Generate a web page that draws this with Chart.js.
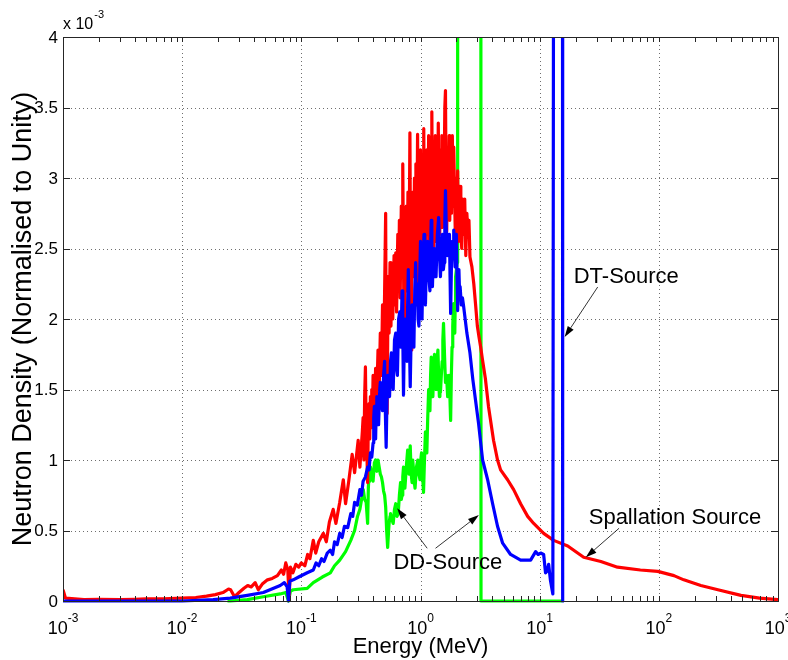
<!DOCTYPE html>
<html>
<head>
<meta charset="utf-8">
<script src="https://cdn.jsdelivr.net/npm/chart.js@4.4.0/dist/chart.umd.min.js"></script>
<style>
  html, body { margin: 0; padding: 0; background: #fff; }
  #wrap { width: 788px; height: 660px; }
</style>
</head>
<body>
<div id="wrap"><canvas id="spectrum-chart" width="788" height="660"></canvas></div>
<script>
// energies in MeV, densities in units of 1e-3 (axis shows "x 10^-3")
const spallationEnergy = [
  0.001, 0.00105, 0.0015, 0.002, 0.003, 0.004, 0.005, 0.007, 0.01, 0.013,
  0.016, 0.019, 0.022, 0.0245, 0.0255, 0.0275, 0.03, 0.033, 0.0355, 0.038,
  0.041, 0.0435, 0.047, 0.052, 0.057, 0.063, 0.068, 0.071, 0.074, 0.077,
  0.079, 0.081, 0.085, 0.09, 0.095, 0.1, 0.107, 0.113, 0.118, 0.126,
  0.132, 0.14, 0.153, 0.162, 0.172, 0.185, 0.195, 0.21, 0.225, 0.235,
  0.25, 0.267, 0.28, 0.3, 0.31, 0.325, 0.33, 0.335, 0.34, 0.345,
  0.35, 0.355, 0.36, 0.365, 0.37, 0.375, 0.38, 0.385, 0.39, 0.395,
  0.4, 0.41, 0.42, 0.43, 0.44, 0.45, 0.46, 0.47, 0.48, 0.49,
  0.5, 0.51, 0.515, 0.525, 0.535, 0.545, 0.555, 0.565, 0.575, 0.585,
  0.6, 0.61, 0.62, 0.63, 0.645, 0.655, 0.665, 0.675, 0.69, 0.7,
  0.71, 0.72, 0.73, 0.74, 0.75, 0.76, 0.77, 0.785, 0.8, 0.815,
  0.825, 0.835, 0.845, 0.855, 0.865, 0.875, 0.89, 0.9, 0.915, 0.93,
  0.945, 0.955, 0.965, 0.975, 0.99, 1.0, 1.02, 1.035, 1.05, 1.065,
  1.08, 1.095, 1.11, 1.13, 1.15, 1.17, 1.19, 1.21, 1.23, 1.245,
  1.26, 1.275, 1.29, 1.31, 1.33, 1.35, 1.37, 1.39, 1.41, 1.43,
  1.45, 1.47, 1.49, 1.51, 1.53, 1.55, 1.57, 1.6, 1.62, 1.64,
  1.66, 1.69, 1.71, 1.74, 1.76, 1.79, 1.82, 1.85, 1.88, 1.9,
  1.93, 1.96, 1.99, 2.02, 2.05, 2.08, 2.11, 2.15, 2.18, 2.22,
  2.26, 2.3, 2.35, 2.4, 2.45, 2.5, 2.55, 2.6, 2.7, 2.8,
  2.9, 3.0, 3.1, 3.2, 3.3, 3.5, 3.72, 4.1, 4.43, 4.7,
  5.38, 6.05, 6.92, 7.93, 8.91, 10.8, 13.1, 17.2, 23.4, 32.6,
  45, 70, 98, 134, 162, 225, 313, 489, 700, 1000
];
const spallationDensity = [
  0.08, 0.02, 0.01, 0.012, 0.01, 0.012, 0.015, 0.015, 0.02, 0.025,
  0.035, 0.045, 0.06, 0.085, 0.08, 0.03, 0.06, 0.09, 0.11, 0.1,
  0.13, 0.08, 0.12, 0.15, 0.16, 0.18, 0.22, 0.19, 0.27, 0.22,
  0.02, 0.24, 0.2, 0.26, 0.24, 0.27, 0.25, 0.33, 0.3, 0.43,
  0.34, 0.42, 0.48, 0.42, 0.56, 0.65, 0.55, 0.7, 0.86, 0.69,
  0.85, 1.04, 0.91, 1.14, 0.95, 1.2, 1.3, 1.0, 1.45, 1.66,
  1.2, 1.05, 0.84, 1.3, 1.4, 1.15, 1.45, 1.23, 1.5, 1.3,
  1.6, 1.25, 1.65, 1.45, 1.78, 1.5, 1.9, 1.6, 2.1, 1.7,
  2.2, 2.75, 1.8, 1.33, 2.3, 1.9, 2.4, 1.95, 2.35, 2.0,
  2.45, 2.1, 2.47, 2.05, 2.6, 2.2, 2.7, 2.15, 2.8, 2.3,
  3.1, 2.4, 1.77, 2.6, 2.3, 2.8, 2.2, 2.9, 2.3, 3.32,
  2.4, 1.78, 2.7, 2.3, 2.9, 2.4, 3.0, 2.3, 3.1, 2.5,
  3.31, 2.4, 2.25, 3.0, 2.5, 3.2, 2.6, 3.1, 2.4, 3.35,
  2.5, 3.0, 2.35, 3.2, 2.6, 3.3, 2.5, 3.1, 2.6, 3.47,
  2.7, 2.45, 3.2, 2.7, 3.3, 2.55, 3.1, 2.7, 3.39, 2.8,
  2.6, 3.2, 2.75, 3.3, 2.65, 3.1, 2.8, 3.5, 3.62, 2.9,
  2.62, 3.2, 2.8, 3.3, 2.7, 3.1, 2.75, 3.3, 2.8, 3.22,
  2.9, 2.6, 3.0, 2.7, 3.05, 2.55, 2.9, 2.94, 2.6, 2.5,
  2.85, 2.6, 2.85, 2.45, 2.75, 2.6, 2.7, 2.44, 2.37, 2.25,
  2.1, 1.95, 1.87, 1.8, 1.72, 1.58, 1.38, 1.14, 1.0, 0.93,
  0.86, 0.79, 0.69, 0.6, 0.55, 0.48, 0.43, 0.39, 0.31, 0.28,
  0.24, 0.22, 0.21, 0.18, 0.15, 0.11, 0.08, 0.04, 0.02, 0.01
];

const dtEnergy = [
  0.001, 0.01, 0.0182, 0.0253, 0.0352, 0.048, 0.0665, 0.072, 0.076, 0.078,
  0.08, 0.0855, 0.095, 0.112, 0.126, 0.133, 0.14, 0.148, 0.155, 0.165,
  0.175, 0.183, 0.19, 0.2, 0.21, 0.22, 0.23, 0.245, 0.26, 0.27,
  0.28, 0.295, 0.31, 0.32, 0.33, 0.345, 0.36, 0.37, 0.38, 0.39,
  0.4, 0.405, 0.41, 0.415, 0.42, 0.425, 0.43, 0.44, 0.445, 0.455,
  0.46, 0.47, 0.48, 0.49, 0.5, 0.505, 0.515, 0.525, 0.53, 0.54,
  0.55, 0.56, 0.57, 0.58, 0.59, 0.605, 0.62, 0.63, 0.64, 0.655,
  0.67, 0.685, 0.7, 0.71, 0.72, 0.73, 0.74, 0.755, 0.77, 0.78,
  0.79, 0.805, 0.82, 0.835, 0.85, 0.865, 0.88, 0.895, 0.91, 0.925,
  0.94, 0.955, 0.97, 0.985, 1.0, 1.015, 1.03, 1.05, 1.07, 1.085,
  1.1, 1.125, 1.15, 1.175, 1.2, 1.215, 1.23, 1.245, 1.26, 1.28,
  1.3, 1.325, 1.35, 1.385, 1.42, 1.445, 1.47, 1.5, 1.53, 1.555,
  1.58, 1.6, 1.62, 1.65, 1.68, 1.715, 1.75, 1.77, 1.79, 1.82,
  1.85, 1.875, 1.9, 1.925, 1.95, 1.975, 2.0, 2.025, 2.05, 2.075,
  2.1, 2.125, 2.15, 2.2, 2.25, 2.3, 2.45, 2.6, 2.75, 2.9,
  3.07, 3.32, 3.66, 4.03, 4.43, 4.89, 5.7, 6.92, 8.4, 9.25,
  9.7, 10.2, 10.8, 11.2, 11.5, 11.9, 12.3, 12.9, 13.2, 15.5,
  15.6, 16
];
const dtDensity = [
  0, 0, 0.01, 0.02, 0.04, 0.06, 0.11, 0.13, 0.1, 0,
  0.14, 0.15, 0.17, 0.2, 0.22, 0.27, 0.25, 0.3, 0.28, 0.34,
  0.36, 0.33, 0.42, 0.4, 0.48, 0.45, 0.53, 0.52, 0.62, 0.6,
  0.7, 0.68, 0.79, 0.75, 0.85, 0.88, 0.95, 0.93, 1.05, 1.02,
  1.12, 1.3, 1.38, 1.2, 1.15, 1.35, 1.45, 1.3, 1.25, 1.5,
  1.55, 1.4, 1.35, 1.6, 1.7, 1.4, 1.09, 1.5, 1.6, 1.5,
  1.45, 1.7, 1.76, 1.55, 1.5, 1.85, 1.9, 1.65, 1.6, 2.0,
  2.05, 1.8, 2.2, 1.9, 1.46, 1.8, 2.0, 1.9, 1.7, 2.1,
  2.35, 1.9, 1.52, 1.9, 2.1, 1.85, 1.8, 2.2, 2.4, 2.1,
  2.25, 2.0, 1.95, 2.3, 2.55, 2.2, 2.0, 2.4, 2.6, 2.3,
  2.1, 2.45, 2.55, 2.3, 2.2, 2.5, 2.7, 2.4, 2.23, 2.45,
  2.5, 2.3, 2.3, 2.6, 2.72, 2.45, 2.3, 2.5, 2.6, 2.35,
  2.4, 2.7, 2.91, 2.6, 2.45, 2.6, 2.6, 2.3, 2.04, 2.4,
  2.55, 2.45, 2.63, 2.5, 2.37, 2.55, 2.6, 2.3, 2.06, 2.3,
  2.35, 2.2, 2.23, 2.1, 2.15, 2.09, 1.9, 1.76, 1.57, 1.42,
  1.26, 1.0, 0.86, 0.69, 0.53, 0.41, 0.33, 0.29, 0.29, 0.35,
  0.33, 0.34, 0.33, 0.2, 0.21, 0.26, 0.15, 0.05, 8, 8,
  0, 0
];

const ddEnergy = [
  0.024, 0.0253, 0.0352, 0.048, 0.0665, 0.074, 0.078, 0.081, 0.0855, 0.112,
  0.126, 0.15, 0.175, 0.19, 0.21, 0.235, 0.26, 0.28, 0.296, 0.31,
  0.331, 0.34, 0.35, 0.36, 0.365, 0.37, 0.375, 0.38, 0.39, 0.4,
  0.41, 0.42, 0.43, 0.44, 0.45, 0.46, 0.47, 0.48, 0.49, 0.5,
  0.51, 0.52, 0.53, 0.54, 0.545, 0.555, 0.56, 0.575, 0.59, 0.605,
  0.62, 0.635, 0.65, 0.665, 0.68, 0.69, 0.7, 0.71, 0.72, 0.73,
  0.74, 0.76, 0.78, 0.79, 0.8, 0.81, 0.82, 0.835, 0.85, 0.86,
  0.87, 0.885, 0.9, 0.925, 0.95, 0.97, 0.99, 1.005, 1.02, 1.04,
  1.06, 1.08, 1.1, 1.115, 1.13, 1.15, 1.17, 1.185, 1.2, 1.215,
  1.23, 1.25, 1.27, 1.29, 1.31, 1.33, 1.35, 1.375, 1.4, 1.42,
  1.44, 1.455, 1.47, 1.495, 1.52, 1.54, 1.56, 1.59, 1.62, 1.655,
  1.69, 1.715, 1.74, 1.765, 1.79, 1.815, 1.84, 1.865, 1.89, 1.915,
  1.94, 1.955, 1.97, 2.0, 2.03, 2.05, 3.2, 3.22, 15.5
];
const ddDensity = [
  0, 0, 0.01, 0.03, 0.05, 0.06, 0, 0.07, 0.08, 0.09,
  0.13, 0.17, 0.2, 0.25, 0.29, 0.35, 0.43, 0.5, 0.6, 0.65,
  0.79, 0.72, 0.7, 0.55, 0.8, 0.9, 0.85, 0.95, 0.9, 0.85,
  0.98, 1.0, 0.92, 1.0, 0.95, 0.9, 0.88, 0.84, 0.78, 0.75,
  0.67, 0.5, 0.38, 0.5, 0.55, 0.6, 0.62, 0.58, 0.55, 0.65,
  0.69, 0.6, 0.62, 0.75, 0.84, 0.72, 0.75, 0.88, 0.95, 0.85,
  0.8, 0.95, 1.07, 0.95, 0.9, 1.0, 1.1, 0.9, 0.84, 1.0,
  0.95, 0.85, 0.8, 0.95, 1.0, 0.9, 0.86, 1.0, 1.05, 0.9,
  0.77, 1.0, 1.2, 1.1, 1.05, 1.3, 1.5, 1.4, 1.35, 1.6,
  1.73, 1.55, 1.45, 1.65, 1.75, 1.6, 1.5, 1.7, 1.78, 1.6,
  1.45, 1.6, 1.48, 1.6, 1.7, 1.85, 1.97, 1.75, 1.55, 1.6,
  1.45, 1.55, 1.6, 1.45, 1.28, 1.6, 1.8, 1.95, 2.11, 2.0,
  1.9, 2.1, 2.3, 2.35, 2.4, 10, 10, 0, 0
];

const decades = [0.001, 0.01, 0.1, 1, 10, 100, 1000];
const decadeExponents = ['-3', '-2', '-1', '0', '1', '2', '3'];
const yTickValues = [0, 0.5, 1, 1.5, 2, 2.5, 3, 3.5, 4];
const yTickLabels = ['0', '0.5', '1', '1.5', '2', '2.5', '3', '3.5', '4'];

// text labels and arrows, placed in data coordinates
const noteTexts = ['DT-Source', 'Spallation Source', 'DD-Source'];
const noteAt = [[19.3, 2.255], [25.8, 0.546], [0.593, 0.227]];
const arrowFrom = [[30.7, 2.227], [46.4, 0.516], [1.138, 0.374], [1.337, 0.374]];
const arrowTo = [[16.2, 1.872], [24.4, 0.31], [0.637, 0.657], [3.09, 0.61]];

const FONT = '"Liberation Sans", Arial, sans-serif';

function toPoints(xs, ys) {
  return xs.map((x, i) => ({ x: x, y: ys[i] }));
}

function drawArrow(ctx, x0, y0, x1, y1) {
  const ang = Math.atan2(y1 - y0, x1 - x0);
  const len = 11, half = 3.5;
  const bx = x1 - Math.cos(ang) * len, by = y1 - Math.sin(ang) * len;
  ctx.beginPath();
  ctx.moveTo(x0, y0);
  ctx.lineTo(bx, by);
  ctx.stroke();
  ctx.beginPath();
  ctx.moveTo(x1, y1);
  ctx.lineTo(bx + half * Math.sin(ang), by - half * Math.cos(ang));
  ctx.lineTo(bx - half * Math.sin(ang), by + half * Math.cos(ang));
  ctx.closePath();
  ctx.fill();
}

// matlab-like axes: dotted grid, inward ticks on all four sides, boxed frame
const matlabAxes = {
  id: 'matlabAxes',
  beforeDatasetsDraw(chart) {
    const { ctx, chartArea: a, scales: { x, y } } = chart;
    ctx.save();
    ctx.strokeStyle = '#6e6e6e';
    ctx.lineWidth = 1;
    ctx.setLineDash([1, 3]);
    ctx.beginPath();
    decades.slice(1, -1).forEach((d) => {
      const px = Math.round(x.getPixelForValue(d)) + 0.5;
      ctx.moveTo(px, a.top);
      ctx.lineTo(px, a.bottom);
    });
    yTickValues.slice(1, -1).forEach((v) => {
      const py = Math.round(y.getPixelForValue(v)) + 0.5;
      ctx.moveTo(a.left, py);
      ctx.lineTo(a.right, py);
    });
    ctx.stroke();
    ctx.restore();
  },
  afterDatasetsDraw(chart) {
    const { ctx, chartArea: a, scales: { x, y } } = chart;
    ctx.save();
    ctx.strokeStyle = '#262626';
    ctx.fillStyle = '#000';
    ctx.lineWidth = 1;

    // frame
    ctx.strokeRect(Math.round(a.left) + 0.5, Math.round(a.top) + 0.5,
      Math.round(a.right - a.left), Math.round(a.bottom - a.top));

    // x ticks (majors and minors) and y ticks
    ctx.beginPath();
    decades.forEach((d, i) => {
      const marks = i < decades.length - 1 ? [1, 2, 3, 4, 5, 6, 7, 8, 9] : [1];
      marks.forEach((m) => {
        const px = Math.round(x.getPixelForValue(d * m)) + 0.5;
        ctx.moveTo(px, a.bottom);
        ctx.lineTo(px, a.bottom - 5);
        ctx.moveTo(px, a.top);
        ctx.lineTo(px, a.top + 5);
      });
    });
    yTickValues.forEach((v) => {
      const py = Math.round(y.getPixelForValue(v)) + 0.5;
      ctx.moveTo(a.left, py);
      ctx.lineTo(a.left + 7, py);
      ctx.moveTo(a.right, py);
      ctx.lineTo(a.right - 7, py);
    });
    ctx.stroke();

    // x tick labels: 10 with superscript exponent
    ctx.textBaseline = 'alphabetic';
    ctx.textAlign = 'left';
    decades.forEach((d, i) => {
      const px = x.getPixelForValue(d);
      ctx.font = '18px ' + FONT;
      const w1 = ctx.measureText('10').width;
      ctx.font = '12px ' + FONT;
      const w2 = ctx.measureText(decadeExponents[i]).width;
      const left = px - (w1 + w2) / 2;
      ctx.font = '18px ' + FONT;
      ctx.fillText('10', left, 634);
      ctx.font = '12px ' + FONT;
      ctx.fillText(decadeExponents[i], left + w1, 622);
    });

    // y tick labels
    ctx.font = '17px ' + FONT;
    ctx.textAlign = 'right';
    ctx.textBaseline = 'middle';
    yTickValues.forEach((v, i) => {
      ctx.fillText(yTickLabels[i], a.left - 5, y.getPixelForValue(v) + 1);
    });

    // exponent note above the y axis
    ctx.textAlign = 'left';
    ctx.textBaseline = 'alphabetic';
    ctx.font = '16px ' + FONT;
    ctx.fillText('x 10', a.left, 29);
    const wx = ctx.measureText('x 10').width;
    ctx.font = '11px ' + FONT;
    ctx.fillText('-3', a.left + wx + 1, 18);

    // annotations
    ctx.font = '22px ' + FONT;
    noteTexts.forEach((t, i) => {
      ctx.fillText(t, x.getPixelForValue(noteAt[i][0]), y.getPixelForValue(noteAt[i][1]));
    });
    ctx.lineWidth = 0.8;
    ctx.strokeStyle = '#000';
    arrowFrom.forEach((p, i) => {
      drawArrow(ctx,
        x.getPixelForValue(p[0]), y.getPixelForValue(p[1]),
        x.getPixelForValue(arrowTo[i][0]), y.getPixelForValue(arrowTo[i][1]));
    });
    ctx.restore();
  }
};

const lineStyle = {
  borderWidth: 3.2,
  pointRadius: 0,
  tension: 0,
  fill: false,
  borderJoinStyle: 'round',
  clip: { left: 0, top: 0, right: 0, bottom: 2 }
};

new Chart(document.getElementById('spectrum-chart'), {
  type: 'line',
  data: {
    datasets: [
      Object.assign({ label: 'DT-Source', data: toPoints(dtEnergy, dtDensity), borderColor: '#0000ff', order: 0 }, lineStyle),
      Object.assign({ label: 'Spallation Source', data: toPoints(spallationEnergy, spallationDensity), borderColor: '#ff0000', order: 1 }, lineStyle),
      Object.assign({ label: 'DD-Source', data: toPoints(ddEnergy, ddDensity), borderColor: '#00ff00', order: 2 }, lineStyle)
    ]
  },
  options: {
    responsive: false,
    animation: false,
    devicePixelRatio: 1,
    layout: { padding: { top: 37, right: 10, left: 0, bottom: 0 } },
    plugins: { legend: { display: false }, tooltip: { enabled: false } },
    scales: {
      x: {
        type: 'logarithmic',
        min: 0.001,
        max: 1000,
        grid: { display: false },
        border: { display: false },
        ticks: { display: false },
        title: {
          display: true,
          text: 'Energy (MeV)',
          color: '#000',
          font: { family: FONT, size: 22 },
          padding: { top: 0, bottom: 0 }
        },
        afterFit: (scale) => { scale.height = 59; }
      },
      y: {
        type: 'linear',
        min: 0,
        max: 4,
        grid: { display: false },
        border: { display: false },
        ticks: { display: false },
        title: {
          display: true,
          text: 'Neutron Density (Normalised to Unity)',
          color: '#000',
          font: { family: FONT, size: 27 },
          padding: { top: 7, bottom: 0 }
        },
        afterFit: (scale) => { scale.width = 63; }
      }
    }
  },
  plugins: [matlabAxes]
});
</script>
</body>
</html>
